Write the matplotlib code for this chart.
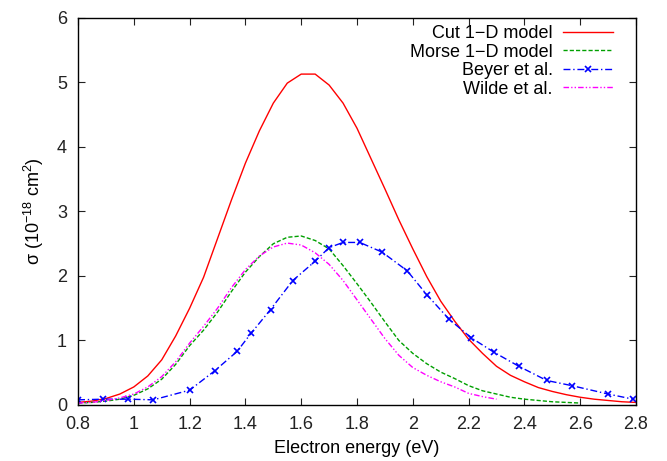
"""
Electron attachment cross section vs electron energy
"""

import matplotlib
matplotlib.use('Agg')
import matplotlib.pyplot as plt

# Model curves sampled every 0.05 eV
energy = [0.80, 0.85, 0.90, 0.95, 1.00, 1.05, 1.10, 1.15, 1.20, 1.25,
          1.30, 1.35, 1.40, 1.45, 1.50, 1.55, 1.60, 1.65, 1.70, 1.75,
          1.80, 1.85, 1.90, 1.95, 2.00, 2.05, 2.10, 2.15, 2.20, 2.25,
          2.30, 2.35, 2.40, 2.45, 2.50, 2.55, 2.60, 2.65, 2.70, 2.75, 2.80]

cut_model = [0.04, 0.06, 0.10, 0.17, 0.28, 0.45, 0.70, 1.07, 1.50, 1.98,
             2.58, 3.18, 3.75, 4.25, 4.68, 4.99, 5.13, 5.13, 4.96, 4.68,
             4.29, 3.82, 3.35, 2.87, 2.42, 1.99, 1.61, 1.30, 1.02, 0.80,
             0.60, 0.46, 0.36, 0.27, 0.21, 0.16, 0.12, 0.09, 0.07, 0.05, 0.04]

morse_energy = energy[:37]
morse_model = [0.03, 0.04, 0.06, 0.09, 0.15, 0.25, 0.40, 0.63, 0.92, 1.16,
               1.44, 1.76, 2.06, 2.30, 2.50, 2.60, 2.62, 2.55, 2.42, 2.16,
               1.88, 1.59, 1.29, 1.00, 0.80, 0.64, 0.51, 0.41, 0.30, 0.22,
               0.17, 0.12, 0.09, 0.07, 0.05, 0.04, 0.03]

wilde_energy = energy[:31]
wilde = [0.03, 0.04, 0.07, 0.11, 0.17, 0.28, 0.44, 0.67, 0.96, 1.22,
         1.50, 1.82, 2.10, 2.31, 2.45, 2.51, 2.48, 2.36, 2.18, 1.93,
         1.63, 1.33, 1.03, 0.77, 0.58, 0.46, 0.36, 0.28, 0.18, 0.13, 0.09]

# Beyer et al. measured points
beyer_energy = [0.80, 0.89, 0.98, 1.07, 1.20, 1.29, 1.37, 1.42, 1.49, 1.57,
                1.65, 1.70, 1.75, 1.81, 1.89, 1.98, 2.05, 2.13, 2.21, 2.29,
                2.38, 2.48, 2.57, 2.70, 2.79]
beyer = [0.08, 0.09, 0.09, 0.08, 0.23, 0.53, 0.83, 1.11, 1.48, 1.93,
         2.23, 2.44, 2.52, 2.52, 2.37, 2.08, 1.71, 1.33, 1.04, 0.82,
         0.60, 0.38, 0.30, 0.17, 0.09]

xticks = [0.8, 1.0, 1.2, 1.4, 1.6, 1.8, 2.0, 2.2, 2.4, 2.6, 2.8]
xtick_labels = ['0.8', '1', '1.2', '1.4', '1.6', '1.8', '2', '2.2', '2.4', '2.6', '2.8']
yticks = [0, 1, 2, 3, 4, 5, 6]


def main():
    plt.rcParams['font.family'] = ['Liberation Sans', 'DejaVu Sans']
    plt.rcParams['mathtext.fontset'] = 'custom'
    plt.rcParams['mathtext.rm'] = 'Liberation Sans'
    plt.rcParams['font.size'] = 13

    fig = plt.figure(figsize=(6.67, 4.61), dpi=100)
    ax = fig.add_axes([0.117, 0.1215, 0.8365, 0.8395])

    ax.plot(energy, cut_model, color='#ff0000', lw=1.0, label='Cut 1\u2212D model')
    ax.plot(morse_energy, morse_model, color='#00a000', lw=1.0,
            linestyle=(0, (3, 1.5)), label='Morse 1\u2212D model')
    ax.plot(beyer_energy, beyer, color='#0000ff', lw=1.0,
            linestyle=(0, (5, 2, 1, 2)), marker='x', markersize=5,
            markeredgewidth=1.2, label='Beyer et al.')
    ax.plot(wilde_energy, wilde, color='#ff00ff', lw=1.0,
            linestyle=(0, (4, 1.5, 1, 1.5, 1, 1.5)), label='Wilde et al.')

    ax.set_xlim(0.8, 2.8)
    ax.set_ylim(0, 6)
    ax.set_xticks(xticks)
    ax.set_xticklabels(xtick_labels)
    ax.set_yticks(yticks)
    ax.tick_params(direction='in', top=True, right=True, length=5, width=0.8,
                   labelsize=13, pad=8, colors='#222222')
    for spine in ax.spines.values():
        spine.set_linewidth(1.0)

    ax.set_xlabel('Electron energy (eV)', fontsize=13, labelpad=5)
    ax.set_ylabel(r'σ (10$^{-18}$ cm$^{2}$)', fontsize=13, labelpad=8)

    ax.legend(loc='upper right', bbox_to_anchor=(0.972, 1.0), frameon=False,
              markerfirst=False, handlelength=2.8, handletextpad=0.55,
              labelspacing=0.08, borderaxespad=0.0, fontsize=13)

    fig.savefig('out.png', dpi=100)


if __name__ == '__main__':
    main()
